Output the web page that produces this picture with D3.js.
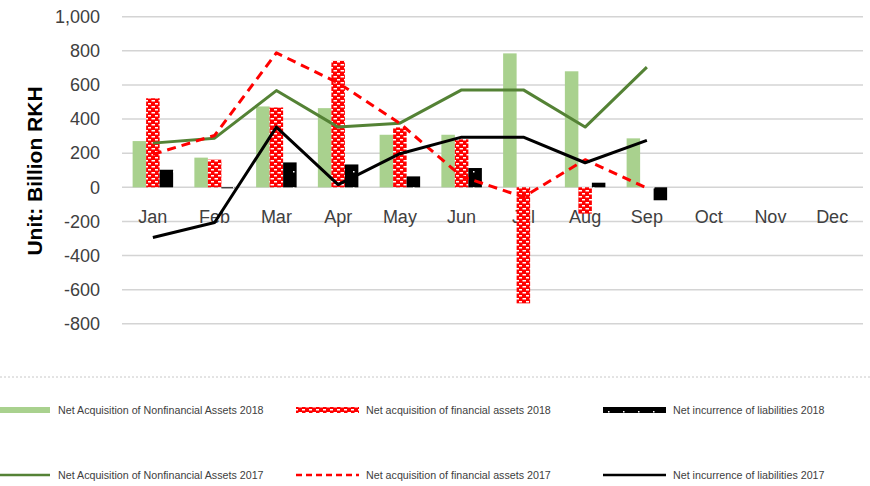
<!DOCTYPE html>
<html><head><meta charset="utf-8">
<script src="https://cdn.jsdelivr.net/npm/d3@7/dist/d3.min.js"></script>
<style>html,body{margin:0;padding:0;background:#fff;}svg{display:block;}</style>
</head><body>
<script>
const months = ["Jan","Feb","Mar","Apr","May","Jun","Jul","Aug","Sep","Oct","Nov","Dec"];
const yTicks = [-800,-600,-400,-200,0,200,400,600,800,1000];
// 2018 bars (Jan–Sep)
const nonfin2018 = [271,174,474,464,308,308,785,680,287];
const fin2018 = [522,162,468,741,351,281,-680,-154,0];
const liab2018 = [103,-6,146,134,64,113,0,27,-76];
// 2017 lines (Jan–Sep)
const nonfin2017 = [259,288,567,353,376,571,571,353,704];
const fin2017 = [193,304,788,612,375,64,-57,162,-4];
const liab2017 = [-294,-206,353,16,197,294,294,144,275];
const seriesNames = ["Net Acquisition of Nonfinancial Assets 2018","Net acquisition of financial assets 2018","Net incurrence of liabilities 2018",
  "Net Acquisition of Nonfinancial Assets 2017","Net acquisition of financial assets 2017","Net incurrence of liabilities 2017"];

const W=870,H=486;
const svg=d3.select("body").append("svg").attr("width",W).attr("height",H);
const defs=svg.append("defs");
const brick=defs.append("pattern").attr("id","brick").attr("patternUnits","userSpaceOnUse").attr("width",7).attr("height",6);
brick.append("rect").attr("width",7).attr("height",6).attr("fill","#ff0000");
brick.append("rect").attr("x",1).attr("y",1).attr("width",3).attr("height",1.5).attr("fill","#fff");
brick.append("rect").attr("x",4.5).attr("y",4).attr("width",2.5).attr("height",1.5).attr("fill","#fff");
brick.append("rect").attr("x",0).attr("y",4).attr("width",1).attr("height",1.5).attr("fill","#fff");
const dots=defs.append("pattern").attr("id","dots").attr("patternUnits","userSpaceOnUse").attr("width",15).attr("height",16);
dots.append("rect").attr("width",15).attr("height",16).attr("fill","#000");
dots.append("rect").attr("x",8).attr("y",11).attr("width",1.5).attr("height",1.5).attr("fill","#fff");

const x=d3.scaleBand().domain(months).range([122,863]).paddingInner(0.344).paddingOuter(0.172);
const xi=d3.scaleBand().domain([0,1,2]).range([0,x.bandwidth()]);
const y=d3.scaleLinear().domain([-800,1000]).range([323.8,16.7]);

// gridlines
svg.append("g").selectAll("line").data(yTicks).join("line")
  .attr("x1",122).attr("x2",863).attr("y1",d=>y(d)).attr("y2",d=>y(d))
  .attr("stroke","#d4d4d4").attr("stroke-width",1.5);

// y axis labels
const fmt=d3.format(",");
const yAxis=d3.axisLeft(y).tickValues(yTicks).tickFormat(d=>fmt(d).replace("\u2212","-")).tickSize(0).tickPadding(0);
const ga=svg.append("g").attr("transform","translate(100,0)").call(yAxis);
ga.select(".domain").remove();
ga.selectAll("text").attr("font-family","Liberation Sans, Arial, sans-serif").attr("font-size",18).attr("fill","#404040");

// x labels
const xAxis=d3.axisBottom(x).tickSize(0).tickPadding(0);
const gx=svg.append("g").attr("transform",`translate(0,${y(0)})`).call(xAxis);
gx.select(".domain").remove();
gx.selectAll("text").attr("font-family","Liberation Sans, Arial, sans-serif").attr("font-size",18).attr("fill","#404040").attr("dy",null).attr("y",36);

// y title
svg.append("text").attr("transform","translate(42,171) rotate(-90)").attr("text-anchor","middle")
  .attr("font-family","Liberation Sans, Arial, sans-serif").attr("font-weight","bold").attr("font-size",21).attr("fill","#000")
  .text("Unit: Billion RKH");

// bars
const barSeries=[{v:nonfin2018,fill:"#a9d18e"},{v:fin2018,fill:"url(#brick)"},{v:liab2018,fill:"url(#dots)"}];
barSeries.forEach((s,i)=>{
  svg.append("g").selectAll("rect").data(s.v).join("rect")
    .attr("x",(d,j)=>x(months[j])+xi(i)).attr("width",xi.bandwidth())
    .attr("y",d=>y(Math.max(0,d))).attr("height",d=>Math.abs(y(d)-y(0)))
    .attr("fill",s.fill);
});

// lines
const line=d3.line().x((d,j)=>x(months[j])+x.bandwidth()/2).y(d=>y(d));
const lineSeries=[{v:nonfin2017,c:"#548235",dash:null},{v:fin2017,c:"#ff0000",dash:"9,6"},{v:liab2017,c:"#000",dash:null}];
lineSeries.forEach(s=>{
  svg.append("path").datum(s.v).attr("d",line).attr("fill","none").attr("stroke",s.c).attr("stroke-width",3)
    .attr("stroke-dasharray",s.dash).attr("stroke-linejoin","round");
});

// separator
svg.append("line").attr("x1",0).attr("x2",870).attr("y1",377).attr("y2",377).attr("stroke","#c8c8c8").attr("stroke-width",1).attr("stroke-dasharray","2,2");

// legend
const legX=[0,296,603], legTextX=[58,366,673], legY=[410,475], legW=[50,63,63];
seriesNames.forEach((name,k)=>{
  const col=k%3,row=Math.floor(k/3);
  const g=svg.append("g");
  const cy=legY[row];
  if(row===0){
    const fills=["#a9d18e","url(#brick)","url(#dots)"];
    g.append("rect").attr("x",legX[col]).attr("y",cy-3).attr("width",legW[col]).attr("height",6).attr("fill",fills[col]);
  } else {
    const ls=lineSeries[col];
    g.append("line").attr("x1",legX[col]).attr("x2",legX[col]+legW[col]).attr("y1",cy).attr("y2",cy)
      .attr("stroke",ls.c).attr("stroke-width",2.5).attr("stroke-dasharray",ls.dash?"6,4":null);
  }
  g.append("text").attr("x",legTextX[col]).attr("y",cy+3.5).attr("font-family","Liberation Sans, Arial, sans-serif")
    .attr("font-size",10.7).attr("fill","#404040").text(name);
});
</script>
</body></html>
